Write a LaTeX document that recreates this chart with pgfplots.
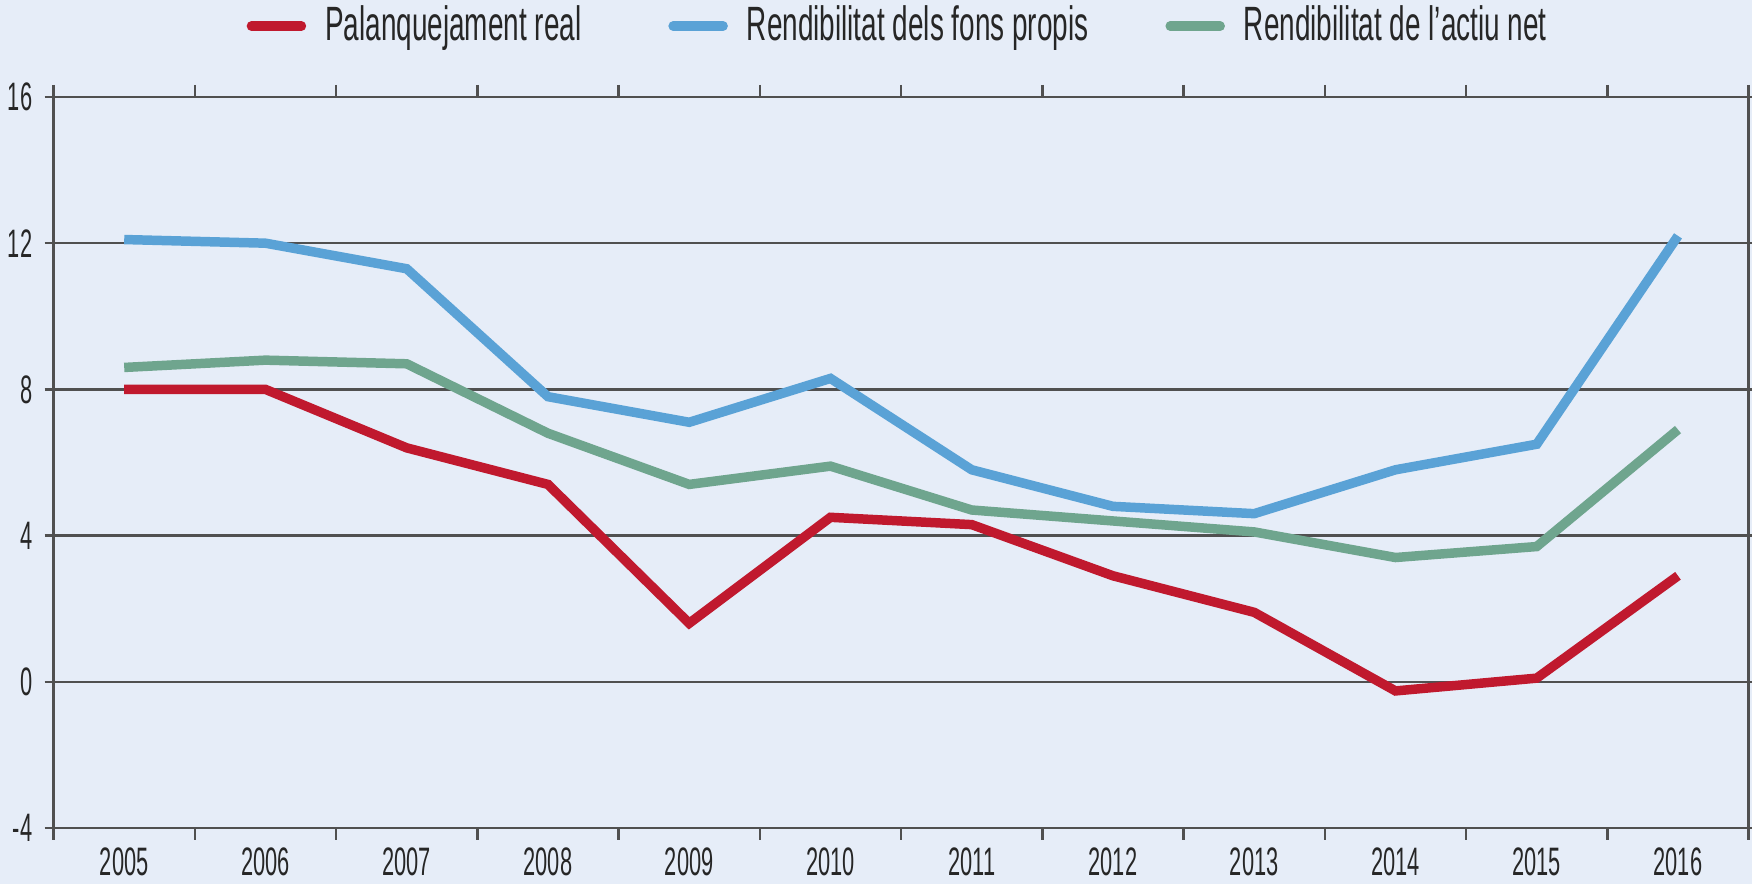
\documentclass[border=0pt]{standalone}
\usepackage{pgfplots}
\pgfplotsset{compat=1.18}
\usepackage{fontspec}
\setmainfont{Liberation Sans}[FakeStretch=0.58]
\newfontfamily\tickfont{Liberation Sans}[FakeStretch=0.55]
\definecolor{bgc}{HTML}{E6EDF8}
\definecolor{cred}{HTML}{C0192E}
\definecolor{cblue}{HTML}{5AA2D6}
\definecolor{cgreen}{HTML}{6FA58E}
\definecolor{gridc}{HTML}{505050}
\begin{document}
\begin{tikzpicture}
\fill[bgc] (0,0) rectangle (17.52,8.84);
\useasboundingbox (0,0) rectangle (17.52,8.84);
\begin{axis}[
  at={(0.536cm,0.56cm)}, anchor=south west,
  width=16.95cm, height=7.31cm, scale only axis,
  xmin=-0.5, xmax=11.5, ymin=-4, ymax=16,
  ytick={-4,0,4,8,12,16},
  xtick={0,...,11},
  xticklabels={2005,2006,2007,2008,2009,2010,2011,2012,2013,2014,2015,2016},
  minor xtick={-0.5,0.5,...,11.5},
  x tick style={draw=none},
  minor x tick style={draw=gridc, line width=0.7pt},
  minor tick length=0.12cm,
  y tick style={draw=gridc, line width=0.7pt},
  major tick length=0.09cm,
  tick align=outside,
  ymajorgrids,
  grid style={draw=gridc, line width=0.7pt},
  axis line style={draw=gridc, line width=0.7pt},
  /pgf/number format/assume math mode=true,
  tick label style={font=\tickfont\fontsize{11.3}{12}\selectfont, text=black!85},
  xticklabel style={yshift=0.02cm},
  yticklabel style={xshift=0.0cm},
  axis background/.style={fill=bgc},
  legend columns=3,
  legend style={draw=none, fill=none, at={(0.1135,1.097)}, anchor=west,
    inner sep=0pt, font=\fontsize{13.7}{15}\selectfont, text=black!85,
    /tikz/column 2/.style={column sep=0.80cm},
    /tikz/column 4/.style={column sep=0.70cm}},
  legend image code/.code={\draw[#1, line width=2.7pt, line cap=round] (0cm,0cm) -- (0.5cm,0cm); \path (0.62cm,0cm);},
  every axis plot/.append style={line width=2.7pt},
]
\addplot[cred] coordinates {(0,8.0)(1,8.0)(2,6.4)(3,5.4)(4,1.6)(5,4.5)(6,4.3)(7,2.9)(8,1.9)(9,-0.25)(10,0.1)(11,2.9)};
\addlegendentry{Palanquejament real}
\addplot[cblue] coordinates {(0,12.1)(1,12.0)(2,11.3)(3,7.8)(4,7.1)(5,8.3)(6,5.8)(7,4.8)(8,4.6)(9,5.8)(10,6.5)(11,12.2)};
\addlegendentry{Rendibilitat dels fons propis}
\addplot[cgreen] coordinates {(0,8.6)(1,8.8)(2,8.7)(3,6.8)(4,5.4)(5,5.9)(6,4.7)(7,4.4)(8,4.1)(9,3.4)(10,3.7)(11,6.9)};
\addlegendentry{Rendibilitat de l'actiu net}
\end{axis}
\end{tikzpicture}
\end{document}
